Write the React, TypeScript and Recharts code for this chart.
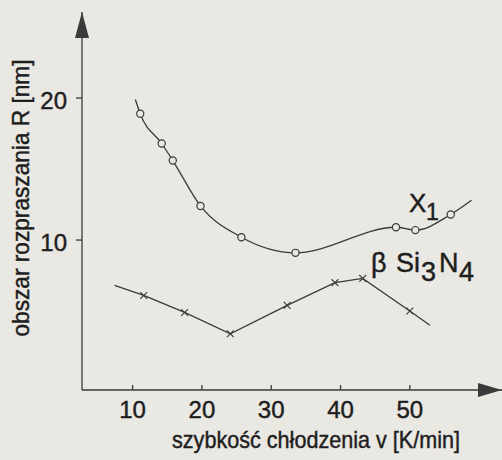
import { Line, LineChart, XAxis, YAxis } from 'recharts';

// Values. First and last entry of each curve are only where the
// drawn line starts / ends (no measurement marker there).
const rateX1 = [10.4, 11.1, 14.2, 15.8, 19.8, 25.7, 33.5, 48.0, 50.8, 55.9, 58.9];
const radiusX1 = [19.9, 18.9, 16.8, 15.6, 12.4, 10.2, 9.1, 10.9, 10.7, 11.8, 12.8];

const rateSi = [7.4, 11.6, 17.5, 24.1, 32.3, 39.2, 43.2, 50.0, 52.9];
const radiusSi = [6.8, 6.1, 4.9, 3.4, 5.4, 7.0, 7.3, 5.0, 4.0];

const xTicks = [10, 20, 30, 40, 50];
const yTicks = [10, 20];

const INK = '#3a3a3a';
const TEXT = '#1e1e1e';
const PAPER = '#eae8e3';
const FONT = "'Liberation Sans', Arial, sans-serif";
const NARROW = "'Liberation Sans Narrow', 'Liberation Sans', Arial, sans-serif";

const x1Data = rateX1.map((v, i) => ({ v, R: radiusX1[i] }));
const siData = rateSi.map((v, i) => ({ v, R: radiusSi[i] }));

// scanned print is heavier than a plain regular face, so thicken text a bit
const textStyle = { fill: TEXT, stroke: TEXT, strokeWidth: 0.45 };

function CircleDot(props: any) {
  const { cx, cy, index } = props;
  if (index === 0 || index === rateX1.length - 1) return <g key={index} />;
  return <circle key={index} cx={cx} cy={cy} r={3.6} fill={PAPER} stroke={INK} strokeWidth={1.2} />;
}

function CrossDot(props: any) {
  const { cx, cy, index } = props;
  if (index === 0 || index === rateSi.length - 1) return <g key={index} />;
  const d = 3.4;
  return (
    <g key={index} stroke={INK} strokeWidth={1.1}>
      <line x1={cx - d} y1={cy - d} x2={cx + d} y2={cy + d} />
      <line x1={cx - d} y1={cy + d} x2={cx + d} y2={cy - d} />
    </g>
  );
}

// ticks on the x axis point up into the plot
function XTick({ x, y, payload }: any) {
  return (
    <g>
      <line x1={x} x2={x} y1={y} y2={y - 5} stroke={INK} strokeWidth={1.3} />
      <text x={x} y={y + 28} textAnchor="middle" fontSize={24} fontFamily={FONT} {...textStyle}>
        {payload.value}
      </text>
    </g>
  );
}

function YTick({ x, y, payload }: any) {
  return (
    <g>
      <line x1={x - 6} x2={x} y1={y} y2={y} stroke={INK} strokeWidth={1.3} />
      <text x={x - 15} y={y + 11} textAnchor="end" fontSize={24} fontFamily={FONT} {...textStyle}>
        {payload.value}
      </text>
    </g>
  );
}

export default function App() {
  return (
    <div style={{ position: 'absolute', left: 0, top: 0, width: 502, height: 460, background: PAPER }}>
      <LineChart width={502} height={460} margin={{ top: 12, right: 0, bottom: 30, left: 22 }}>
        <defs>
          <marker id="arrowX" markerUnits="userSpaceOnUse" markerWidth={24} markerHeight={14}
            refX={24} refY={7} orient="auto">
            <path d="M0,0 L24,7 L0,14 z" fill={INK} />
          </marker>
          <marker id="arrowY" markerUnits="userSpaceOnUse" markerWidth={26} markerHeight={14}
            refX={26} refY={7} orient="auto-start-reverse">
            <path d="M0,0 L26,7 L0,14 z" fill={INK} />
          </marker>
        </defs>
        <XAxis
          type="number"
          dataKey="v"
          domain={[2.7, 63.3]}
          ticks={xTicks}
          interval={0}
          allowDataOverflow
          height={40}
          tickSize={0}
          tickMargin={0}
          tickLine={false}
          axisLine={{ stroke: INK, strokeWidth: 1.3, markerEnd: 'url(#arrowX)' }}
          tick={XTick}
        />
        <YAxis
          type="number"
          domain={[-0.56, 26.06]}
          ticks={yTicks}
          interval={0}
          allowDataOverflow
          width={60}
          tickSize={0}
          tickMargin={0}
          tickLine={false}
          axisLine={{ stroke: INK, strokeWidth: 1.3, markerStart: 'url(#arrowY)' }}
          tick={YTick}
        />
        <Line
          data={x1Data}
          dataKey="R"
          type="monotone"
          stroke={INK}
          strokeWidth={1.3}
          dot={CircleDot}
          activeDot={false}
          isAnimationActive={false}
        />
        <Line
          data={siData}
          dataKey="R"
          type="linear"
          stroke={INK}
          strokeWidth={1.3}
          dot={CrossDot}
          activeDot={false}
          isAnimationActive={false}
        />
        <text x={29} y={198} transform="rotate(-90 29 198)" textAnchor="middle" fontSize={24}
          fontFamily={NARROW} textLength={277} lengthAdjust="spacingAndGlyphs" {...textStyle}>
          obszar rozpraszania R [nm]
        </text>
        <text x={316} y={448} textAnchor="middle" fontSize={24} fontFamily={NARROW}
          textLength={288} lengthAdjust="spacingAndGlyphs" {...textStyle}>
          szybkość chłodzenia v [K/min]
        </text>
        <text fontSize={26} fontFamily={FONT} {...textStyle}>
          <tspan x={409} y={212}>X</tspan>
          <tspan x={426} y={220} fontSize={23}>1</tspan>
        </text>
        <text fontSize={27} fontFamily={FONT} {...textStyle}>
          <tspan x={371} y={272}>β</tspan>
          <tspan x={396} y={272}>Si</tspan>
          <tspan x={421} y={281}>3</tspan>
          <tspan x={439} y={272}>N</tspan>
          <tspan x={459} y={281}>4</tspan>
        </text>
      </LineChart>
    </div>
  );
}
